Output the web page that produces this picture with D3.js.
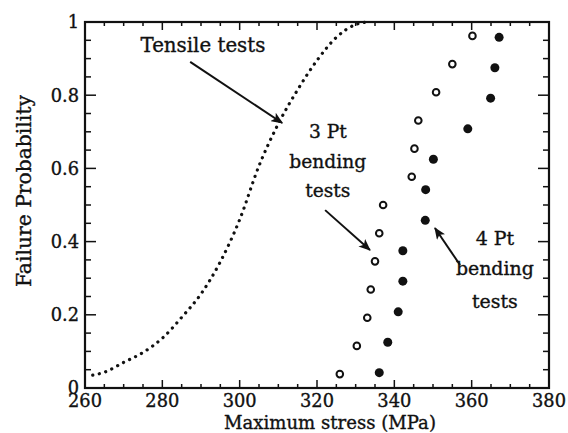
<!DOCTYPE html>
<html><head><meta charset="utf-8">
<script src="https://cdn.jsdelivr.net/npm/d3@7"></script>
<style>
html,body{margin:0;padding:0;background:#fff;}
</style></head>
<body><svg id="c" width="568" height="433" font-family="DejaVu Serif, Liberation Serif, serif"></svg>
<script>
// ---- data ----
const tensileStress = [262,265,270,275,280,285,290,295,300,305,310,315,320,325,330,333];
const tensileProb   = [0.035,0.043,0.070,0.097,0.136,0.193,0.257,0.345,0.46,0.607,0.722,0.815,0.895,0.958,0.993,1.0];
const pt3Stress = [325.9,330.3,333.0,333.9,335.0,336.1,337.1,344.5,345.2,346.2,350.8,355.0,360.2];
const pt3Prob   = [0.038,0.115,0.192,0.269,0.346,0.423,0.500,0.577,0.654,0.731,0.808,0.885,0.962];
const pt4Stress = [336.1,338.3,341.0,342.2,342.2,348.0,348.1,350.1,359.0,364.9,366.0,367.1];
const pt4Prob   = [0.042,0.125,0.208,0.292,0.375,0.458,0.542,0.625,0.708,0.792,0.875,0.958];
const xTicks = [260,280,300,320,340,360,380];
const yTicks = [0,0.2,0.4,0.6,0.8,1];
const yTickLabels = ["0","0.2","0.4","0.6","0.8","1"];
const xTitle = "Maximum stress (MPa)";
const yTitle = "Failure Probability";

// annotations in data units
const labels = [
  {lines:["Tensile tests"], x:290.5, y:[0.918], fitLine:0, fitW:125},
  {lines:["3 Pt","bending","tests"], x:322.8, y:[0.683,0.601,0.522], fitLine:1, fitW:77},
  {lines:["4 Pt","bending","tests"], x:366.0, y:[0.391,0.309,0.219], fitLine:1, fitW:78}
];
const arrows = [
  {from:[287.2,0.891], to:[311.0,0.724]},
  {from:[322.1,0.486], to:[333.7,0.377]},
  {from:[357.0,0.336], to:[350.5,0.437]}
];

// ---- drawing ----
const svg = d3.select("#c");
const ink = "#111";
const L=85, R=549, T=22, B=388;
const x = d3.scaleLinear().domain([260,380]).range([L,R]);
const y = d3.scaleLinear().domain([0,1]).range([B,T]);

// font size that makes a given string reach a target width
function fitSize(str, target){
  const t = svg.append("text").attr("font-size",20).text(str);
  const w = t.node().getComputedTextLength();
  t.remove();
  return 20*target/w;
}
function styleText(sel, fs){
  return sel.attr("font-size",fs).attr("fill",ink).attr("stroke",ink).attr("stroke-width",0.35);
}

const defs = svg.append("defs");
defs.append("marker").attr("id","ah").attr("viewBox","0 -5 12 10")
  .attr("refX",11).attr("refY",0).attr("markerWidth",12).attr("markerHeight",10)
  .attr("markerUnits","userSpaceOnUse").attr("orient","auto")
  .append("path").attr("d","M0,-5L12,0L0,5L3,0Z").attr("fill",ink);

// ticks (inward, all four sides)
const xMinor = d3.range(260,381,5);
const yMinor = d3.range(0,1.0001,0.05);
const tk = svg.append("g").attr("stroke",ink).attr("stroke-width",1.5);
xMinor.forEach(v=>{
  const major = xTicks.includes(v);
  const len = major?8:4;
  tk.append("line").attr("x1",x(v)).attr("x2",x(v)).attr("y1",B).attr("y2",B-len);
  tk.append("line").attr("x1",x(v)).attr("x2",x(v)).attr("y1",T).attr("y2",T+len);
});
yMinor.forEach(v=>{
  const major = yTicks.some(t=>Math.abs(t-v)<1e-6);
  const len = major?11:6;
  tk.append("line").attr("y1",y(v)).attr("y2",y(v)).attr("x1",L).attr("x2",L+len);
  tk.append("line").attr("y1",y(v)).attr("y2",y(v)).attr("x1",R).attr("x2",R-len);
});
svg.append("rect").attr("x",L).attr("y",T).attr("width",R-L).attr("height",B-T)
  .attr("fill","none").attr("stroke",ink).attr("stroke-width",2.2);

// tick labels
const tickFs = fitSize("300", 34);
styleText(svg.append("g").selectAll("text").data(xTicks).join("text")
  .attr("x",d=>x(d)).attr("y",406.5).attr("text-anchor","middle"), tickFs).text(d=>d);
styleText(svg.append("g").selectAll("text").data(yTicks).join("text")
  .attr("x",79).attr("y",d=>y(d)).attr("dy","0.36em").attr("text-anchor","end"), tickFs)
  .text((d,i)=>yTickLabels[i]);

// titles
styleText(svg.append("text").attr("x",330).attr("y",428.5).attr("text-anchor","middle"),
  fitSize(xTitle,212)).text(xTitle);
styleText(svg.append("text").attr("transform","translate(31,191) rotate(-90)").attr("text-anchor","middle"),
  fitSize(yTitle,192)).text(yTitle);

// tensile dotted curve
const tens = tensileStress.map((s,i)=>[s,tensileProb[i]]);
svg.append("path").datum(tens)
  .attr("d",d3.line().x(d=>x(d[0])).y(d=>y(d[1])).curve(d3.curveMonotoneX))
  .attr("fill","none").attr("stroke",ink).attr("stroke-width",3.2)
  .attr("stroke-linecap","round").attr("stroke-dasharray","0.1,6.6");

// 3 Pt open circles
svg.append("g").selectAll("circle").data(pt3Stress).join("circle")
  .attr("cx",d=>x(d)).attr("cy",(d,i)=>y(pt3Prob[i])).attr("r",3.3)
  .attr("fill","#fff").attr("stroke",ink).attr("stroke-width",2);
// 4 Pt filled circles
svg.append("g").selectAll("circle").data(pt4Stress).join("circle")
  .attr("cx",d=>x(d)).attr("cy",(d,i)=>y(pt4Prob[i])).attr("r",4.5)
  .attr("fill",ink);

// annotations
labels.forEach(l=>{
  const fs = fitSize(l.lines[l.fitLine], l.fitW);
  l.lines.forEach((t,i)=>{
    styleText(svg.append("text").attr("x",x(l.x)).attr("y",y(l.y[i])).attr("text-anchor","middle"), fs).text(t);
  });
});
arrows.forEach(a=>{
  svg.append("line").attr("x1",x(a.from[0])).attr("y1",y(a.from[1]))
    .attr("x2",x(a.to[0])).attr("y2",y(a.to[1]))
    .attr("stroke",ink).attr("stroke-width",2).attr("marker-end","url(#ah)");
});
</script></body></html>
